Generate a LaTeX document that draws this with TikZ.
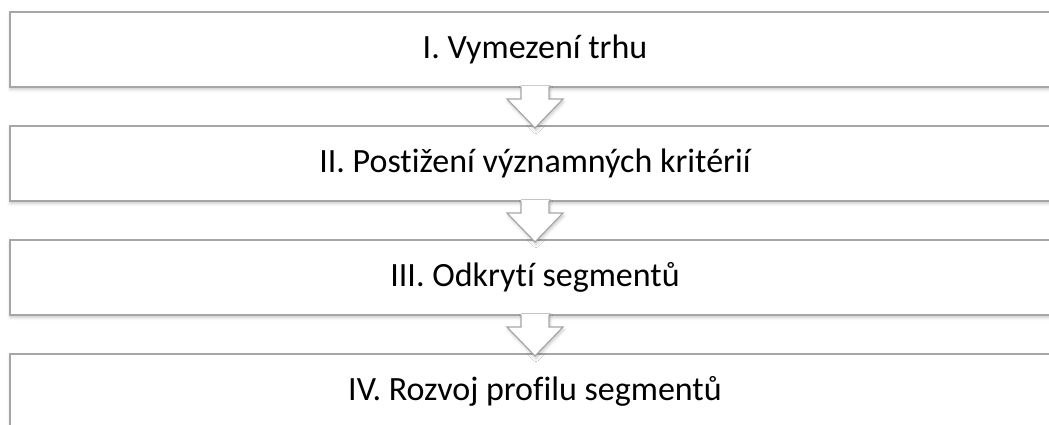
\documentclass[tikz,border=0pt]{standalone}
\usepackage{fontspec}
\setmainfont{Carlito}[Ligatures=NoCommon]
\usetikzlibrary{positioning,calc,shadows.blur}

\tikzset{
  stagebox/.style={draw=gray!70,line width=1.2pt,fill=white,
    minimum width=1050pt,minimum height=75pt,inner sep=0pt,outer sep=0pt,
    font=\fontsize{34}{41}\selectfont,
    blur shadow={shadow xshift=0pt,shadow yshift=-2.5pt,shadow opacity=22,
      shadow blur radius=3pt,shadow blur steps=5}},
  downfill/.style={fill=white,
    blur shadow={shadow xshift=1pt,shadow yshift=-2.5pt,shadow opacity=22,
      shadow blur radius=3pt,shadow blur steps=5}},
  downline/.style={draw=gray!70,line width=1.2pt,line join=miter}
}

\begin{document}
\begin{tikzpicture}[x=1pt,y=1pt]
  \useasboundingbox (0,0) rectangle (1049,-425);

  \node[stagebox] (b1) at (535,-49.5) {\raisebox{-2pt}{I. Vymezení trhu}};
  \node[stagebox,below=39pt of b1] (b2) {\raisebox{-2pt}{II. Postižení významných kritérií}};
  \node[stagebox,below=39pt of b2] (b3) {\raisebox{-2pt}{III. Odkrytí segmentů}};
  \node[stagebox,below=39pt of b3] (b4) {\raisebox{-2pt}{IV. Rozvoj profilu segmentů}};

  % arrows between the stages
  \foreach \a/\b in {b1/b2,b2/b3,b3/b4}{
    \fill[downfill] ([shift={(-14,1)}]\a.south) -- ([shift={(-14,-12)}]\a.south)
      -- ([shift={(-28,-12)}]\a.south) -- ([yshift=-2]\b.north)
      -- ([shift={(28,-12)}]\a.south) -- ([shift={(14,-12)}]\a.south)
      -- ([shift={(14,1)}]\a.south) -- cycle;
    \draw[downline] ([shift={(-14,0)}]\a.south) -- ([shift={(-14,-12)}]\a.south)
      -- ([shift={(-28,-12)}]\a.south) -- ([yshift=-2]\b.north)
      -- ([shift={(28,-12)}]\a.south) -- ([shift={(14,-12)}]\a.south)
      -- ([shift={(14,0)}]\a.south);
  }
\end{tikzpicture}
\end{document}
